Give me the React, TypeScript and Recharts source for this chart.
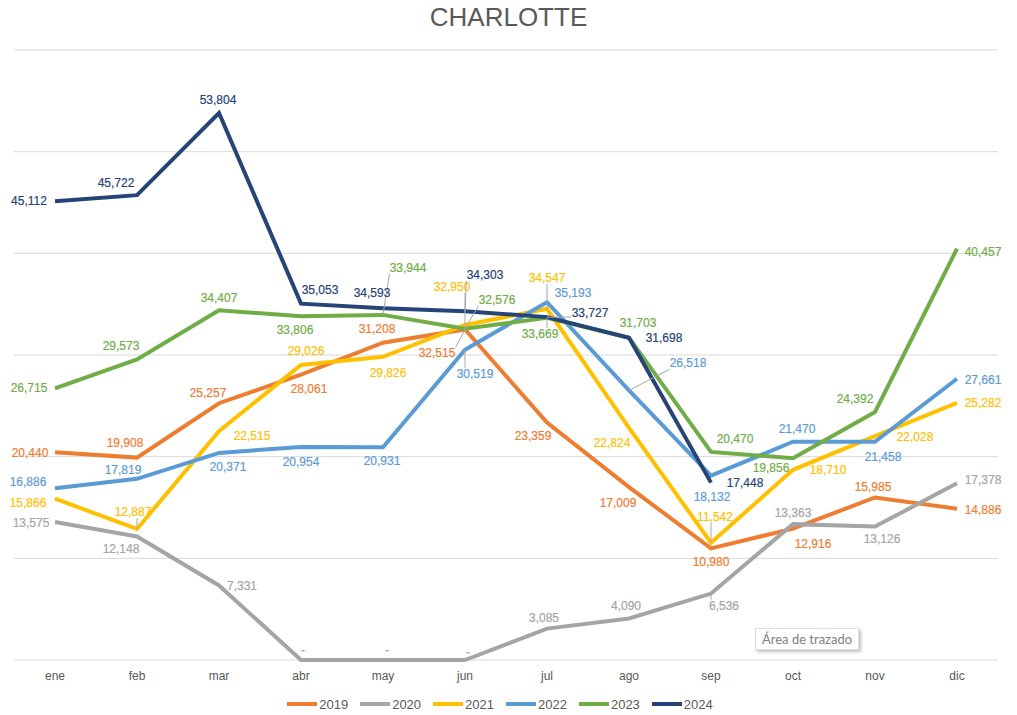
import React from 'react'
import { LineChart, Line, XAxis, YAxis, CartesianGrid, Legend } from 'recharts'

const months = ['ene', 'feb', 'mar', 'abr', 'may', 'jun', 'jul', 'ago', 'sep', 'oct', 'nov', 'dic']
const yTicks = [0, 10000, 20000, 30000, 40000, 50000, 60000]

const v2019 = [20440, 19908, 25257, 28061, 31208, 32515, 23359, 17009, 10980, 12916, 15985, 14886]
const v2020 = [13575, 12148, 7331, 0, 0, 0, 3085, 4090, 6536, 13363, 13126, 17378]
const v2021 = [15866, 12887, 22515, 29026, 29826, 32950, 34547, 22824, 11542, 18710, 22028, 25282]
const v2022 = [16886, 17819, 20371, 20954, 20931, 30519, 35193, 26518, 18132, 21470, 21458, 27661]
const v2023 = [26715, 29573, 34407, 33806, 33944, 32576, 33669, 31703, 20470, 19856, 24392, 40457]
const v2024 = [45112, 45722, 53804, 35053, 34593, 34303, 33727, 31698, 17448, null, null, null]

// label offsets from the point: [dx, dy, leader line?]
const pos2019 = [[-25, 1], [-12, -15], [-11, -10], [8, 14], [-6, -14], [-28, 24, 1], [-14, 13], [-11, 16], [0, 14], [20, 15], [-2, -10], [26, 1]]
const pos2020 = [[-24, 1], [-16, 13], [23, 1], [2, -10], [4, -10], [3, -8], [-3, -11], [-3, -12], [13, 12, 1], [0, -11], [7, 12], [26, -3]]
const pos2021 = [[-27, 4], [-4, -17, 1], [33, 5], [5, -14], [5, 16], [-13, -38, 1], [0, -31, 1], [-17, 15], [4, -26, 1], [35, 0], [40, 1], [26, 0]]
const pos2022 = [[-27, -6], [-14, -9], [9, 14], [0, 15], [-1, 14], [10, 24, 1], [26, -9], [59, -27, 1], [1, 21], [4, -13], [8, 15], [26, 1]]
const pos2023 = [[-26, 0], [-16, -13], [0, -12], [-6, 14], [25, -47, 1], [32, -29, 1], [-7, 16, 1], [9, -15], [24, -13], [-22, 10], [-20, -13], [26, 3]]
const pos2024 = [[-26, 0], [-21, -12], [-1, -13], [19, -14], [-11, -15], [20, -36, 1], [43, -4, 1], [35, 0], [34, 0], [0, 0], [0, 0], [0, 0]]

const series = [
  { key: 'y2019', name: '2019', values: v2019, color: '#ED7D31', pos: pos2019 },
  { key: 'y2020', name: '2020', values: v2020, color: '#A5A5A5', pos: pos2020 },
  { key: 'y2021', name: '2021', values: v2021, color: '#FFC000', pos: pos2021 },
  { key: 'y2022', name: '2022', values: v2022, color: '#5B9BD5', pos: pos2022 },
  { key: 'y2023', name: '2023', values: v2023, color: '#70AD47', pos: pos2023 },
  { key: 'y2024', name: '2024', values: v2024, color: '#264478', pos: pos2024 },
]

const data = months.map((m, i) => {
  const row: Record<string, any> = { month: m }
  series.forEach((s) => (row[s.key] = s.values[i]))
  return row
})

const FONT = '"Liberation Sans", Arial, sans-serif'

function makeLabel(color: string, pos: number[][]) {
  return (props: any) => {
    const { x, y, index, value } = props
    if (value == null || x == null || y == null) return null
    const [dx, dy, leader] = pos[index] || [0, 0]
    const cx = x + dx
    const cy = y + dy
    const text = value === 0 ? '-' : Number(value).toLocaleString('en-US')
    const hw = text.length * 3.1
    const hh = 6
    let line = null
    if (leader) {
      const ex = Math.max(cx - hw, Math.min(cx + hw, x))
      const ey = Math.max(cy - hh, Math.min(cy + hh, y))
      line = <line x1={x} y1={y} x2={ex} y2={ey} stroke="#A6A6A6" strokeWidth={1} />
    }
    return (
      <g key={`lbl-${color}-${index}`}>
        {line}
        <text
          x={cx}
          y={cy}
          textAnchor="middle"
          dominantBaseline="central"
          fill={color}
          stroke={color}
          strokeWidth={0.2}
          fontSize={12}
          fontFamily={FONT}
        >
          {text}
        </text>
      </g>
    )
  }
}

const renderLegend = () => (
  <div style={{ height: 20, display: 'flex', justifyContent: 'center', alignItems: 'center', fontFamily: FONT }}>
    {series.map((s) => (
      <div key={s.key} style={{ display: 'flex', alignItems: 'center', marginRight: 12 }}>
        <span style={{ display: 'inline-block', width: 30, height: 4, background: s.color, marginRight: 2 }} />
        <span style={{ fontSize: 13, color: '#595959' }}>{s.name}</span>
      </div>
    ))}
  </div>
)

export default function App() {
  return (
    <div style={{ position: 'absolute', left: 0, top: 0, width: 1017, height: 715, background: '#fff' }}>
      <div
        style={{
          position: 'absolute',
          top: 3,
          left: 0,
          width: 1017,
          textAlign: 'center',
          fontFamily: FONT,
          fontSize: 26,
          lineHeight: '28px',
          color: '#595959',
        }}
      >
        CHARLOTTE
      </div>
      <LineChart width={1017} height={715} data={data} margin={{ top: 50, right: 19, left: 14, bottom: 1 }}>
        <CartesianGrid vertical={false} stroke="#D9D9D9" />
        <XAxis
          dataKey="month"
          axisLine={false}
          tickLine={false}
          height={34}
          tickMargin={5}
          padding={{ left: 41, right: 41 }}
          tick={{ fontSize: 12, fill: '#595959', fontFamily: FONT }}
        />
        <YAxis hide domain={[0, 60000]} ticks={yTicks} />
        <Legend verticalAlign="bottom" content={renderLegend} />
        {series.map((s) => (
          <Line
            key={s.key}
            dataKey={s.key}
            name={s.name}
            type="linear"
            stroke={s.color}
            strokeWidth={4}
            dot={false}
            activeDot={false}
            isAnimationActive={false}
          />
        ))}
        {series.map((s) => (
          <Line
            key={s.key + '-lbl'}
            dataKey={s.key}
            stroke="none"
            dot={false}
            activeDot={false}
            legendType="none"
            isAnimationActive={false}
            label={makeLabel(s.color, s.pos)}
          />
        ))}
      </LineChart>
      <div
        style={{
          position: 'absolute',
          left: 755,
          top: 628,
          padding: '2px 6px',
          background: '#fff',
          border: '1px solid #E0E0E0',
          boxShadow: '2px 2px 3px rgba(0,0,0,0.25)',
          fontFamily: 'Lato, "Open Sans", sans-serif',
          fontSize: 13,
          color: '#808080',
        }}
      >
        Área de trazado
      </div>
    </div>
  )
}
